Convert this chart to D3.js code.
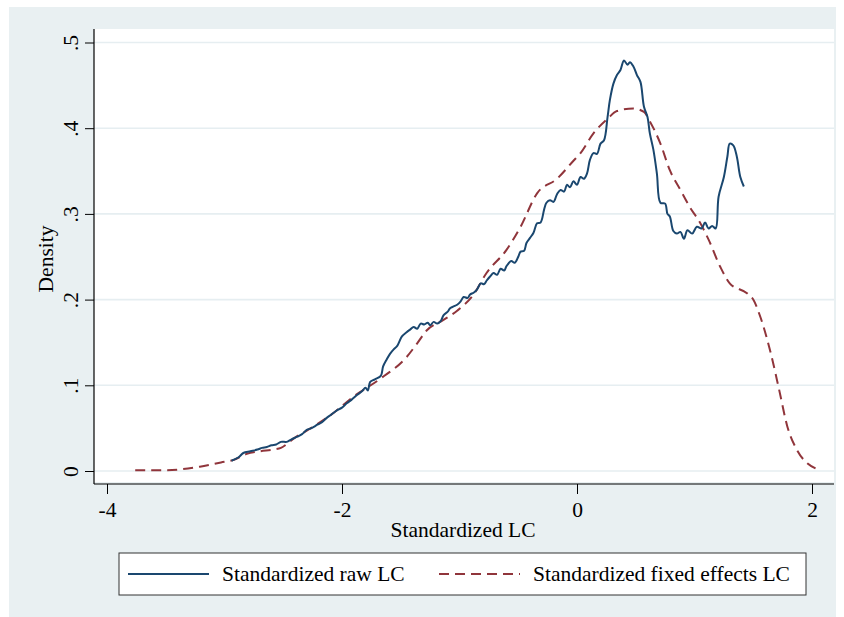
<!DOCTYPE html>
<html>
<head>
<meta charset="utf-8">
<script src="https://cdn.jsdelivr.net/npm/d3@7"></script>
<style>
  body { margin: 0; background: #ffffff; }
  svg text { font-family: "Liberation Serif", "Times New Roman", serif; fill: #000; }
</style>
</head>
<body>
<div class="chart"></div>
<script>
// density estimates: [x, density]
const rawLC = [
  [-2.94, 0.012], [-2.88, 0.016], [-2.84, 0.021], [-2.78, 0.023], [-2.72, 0.025],
  [-2.68, 0.027], [-2.64, 0.028], [-2.60, 0.030], [-2.56, 0.031], [-2.52, 0.034],
  [-2.47, 0.034], [-2.43, 0.037], [-2.38, 0.040], [-2.34, 0.043], [-2.30, 0.048],
  [-2.26, 0.050], [-2.21, 0.054], [-2.17, 0.057], [-2.13, 0.062], [-2.09, 0.066],
  [-2.04, 0.071], [-2.00, 0.074], [-1.96, 0.079], [-1.92, 0.083], [-1.87, 0.089],
  [-1.83, 0.093], [-1.80, 0.097], [-1.78, 0.094], [-1.76, 0.104], [-1.72, 0.107],
  [-1.67, 0.111], [-1.65, 0.122], [-1.62, 0.130], [-1.59, 0.137], [-1.56, 0.142],
  [-1.53, 0.146], [-1.49, 0.157], [-1.45, 0.162], [-1.42, 0.165], [-1.39, 0.168],
  [-1.36, 0.166], [-1.33, 0.172], [-1.30, 0.171], [-1.27, 0.173], [-1.25, 0.170],
  [-1.22, 0.174], [-1.19, 0.172], [-1.16, 0.175], [-1.135, 0.182], [-1.10, 0.186],
  [-1.08, 0.190], [-1.05, 0.192], [-1.02, 0.194], [-0.99, 0.198], [-0.965, 0.203],
  [-0.93, 0.202], [-0.91, 0.206], [-0.88, 0.208], [-0.85, 0.212], [-0.82, 0.219],
  [-0.79, 0.218], [-0.77, 0.222], [-0.74, 0.227], [-0.71, 0.231], [-0.68, 0.229],
  [-0.65, 0.236], [-0.62, 0.234], [-0.60, 0.239], [-0.56, 0.245], [-0.53, 0.243],
  [-0.50, 0.250], [-0.48, 0.256], [-0.45, 0.257], [-0.43, 0.266], [-0.40, 0.272],
  [-0.37, 0.278], [-0.34, 0.289], [-0.31, 0.290], [-0.28, 0.305], [-0.26, 0.313],
  [-0.23, 0.316], [-0.20, 0.314], [-0.17, 0.323], [-0.14, 0.328], [-0.11, 0.326],
  [-0.085, 0.334], [-0.06, 0.331], [-0.03, 0.338], [0.00, 0.334], [0.03, 0.343],
  [0.06, 0.341], [0.085, 0.347], [0.11, 0.363], [0.14, 0.371], [0.17, 0.370],
  [0.20, 0.382], [0.23, 0.386], [0.26, 0.413], [0.28, 0.433], [0.31, 0.452],
  [0.34, 0.462], [0.37, 0.468], [0.40, 0.479], [0.43, 0.474], [0.45, 0.477],
  [0.48, 0.472], [0.51, 0.462], [0.54, 0.454], [0.57, 0.425], [0.60, 0.413],
  [0.62, 0.394], [0.65, 0.375], [0.68, 0.347], [0.71, 0.313], [0.75, 0.312],
  [0.77, 0.300], [0.79, 0.297], [0.82, 0.280], [0.85, 0.277], [0.88, 0.279],
  [0.91, 0.271], [0.94, 0.281], [0.98, 0.277], [1.02, 0.285], [1.06, 0.283],
  [1.09, 0.290], [1.12, 0.283], [1.15, 0.286], [1.18, 0.283], [1.205, 0.320],
  [1.25, 0.343], [1.28, 0.367], [1.30, 0.382], [1.33, 0.380], [1.36, 0.367],
  [1.39, 0.343], [1.42, 0.332]
];

const fixedLC = [
  [-3.76, 0.001], [-3.50, 0.001], [-3.21, 0.005], [-3.03, 0.010], [-2.92, 0.013],
  [-2.81, 0.020], [-2.70, 0.023], [-2.58, 0.025], [-2.52, 0.027], [-2.41, 0.038],
  [-2.24, 0.052], [-2.07, 0.068], [-1.90, 0.087], [-1.67, 0.108], [-1.45, 0.133],
  [-1.36, 0.149], [-1.28, 0.164], [-1.14, 0.176], [-1.02, 0.187], [-0.88, 0.206],
  [-0.77, 0.231], [-0.60, 0.258], [-0.48, 0.285], [-0.34, 0.324], [-0.17, 0.341],
  [-0.03, 0.362], [0.03, 0.371], [0.14, 0.394], [0.26, 0.411], [0.34, 0.420],
  [0.48, 0.423], [0.57, 0.419], [0.62, 0.408], [0.71, 0.382], [0.79, 0.351],
  [0.88, 0.328], [0.96, 0.308], [1.05, 0.289], [1.12, 0.270], [1.22, 0.238],
  [1.30, 0.219], [1.45, 0.207], [1.50, 0.200], [1.56, 0.180], [1.65, 0.137],
  [1.72, 0.095], [1.79, 0.052], [1.87, 0.025], [1.96, 0.009], [2.03, 0.003]
];

const xTicks = [-4, -2, 0, 2];
const xTickLabels = ["-4", "-2", "0", "2"];
const yTicks = [0, 0.1, 0.2, 0.3, 0.4, 0.5];
const yTickLabels = ["0", ".1", ".2", ".3", ".4", ".5"];
const seriesNames = ["Standardized raw LC", "Standardized fixed effects LC"];

const svgWidth = 844;
const svgHeight = 617;
const plot = { left: 94, right: 834, top: 29, bottom: 484 };
const blue = "#1a476f";
const red = "#90353b";
const bg = "#e9f0f2";
const fontSize = "21.5px";

const svg = d3
  .select(".chart")
  .append("svg")
  .attr("width", svgWidth)
  .attr("height", svgHeight);

// outer graph region
svg.append("rect")
  .attr("x", 9).attr("y", 7)
  .attr("width", 827).attr("height", 610)
  .attr("fill", bg);

svg.append("rect")
  .attr("x", plot.left).attr("y", plot.top)
  .attr("width", plot.right - plot.left).attr("height", plot.bottom - 2 - plot.top)
  .attr("fill", "#fff");

const x = d3.scaleLinear().domain([-4, 2]).range([107, 812]);
const y = d3.scaleLinear().domain([0, 0.5]).range([471, 42.5]);

// gridlines
svg.append("g")
  .selectAll("line")
  .data(yTicks)
  .enter()
  .append("line")
  .attr("x1", plot.left).attr("x2", plot.right)
  .attr("y1", (d) => y(d)).attr("y2", (d) => y(d))
  .attr("stroke", "#e6eef1")
  .attr("stroke-width", 1.6);

// axes
const yAxis = svg.append("g")
  .attr("transform", `translate(${plot.left},0)`)
  .call(d3.axisLeft(y).tickValues(yTicks).tickSize(9).tickFormat((d, i) => yTickLabels[i]));
yAxis.select(".domain").remove();
yAxis.selectAll("line").attr("stroke", "#000");
yAxis.selectAll("text")
  .attr("x", 0).attr("y", 0).attr("dy", 0)
  .attr("text-anchor", "middle")
  .attr("transform", "translate(-16,0) rotate(-90)")
  .style("font-size", fontSize);

const xAxis = svg.append("g")
  .attr("transform", `translate(0,${plot.bottom})`)
  .call(d3.axisBottom(x).tickValues(xTicks).tickSize(10).tickPadding(8)
    .tickFormat((d, i) => xTickLabels[i]));
xAxis.select(".domain").remove();
xAxis.selectAll("line").attr("stroke", "#000");
xAxis.selectAll("text").style("font-size", fontSize);

svg.append("line")
  .attr("x1", plot.left).attr("x2", plot.left)
  .attr("y1", plot.top).attr("y2", plot.bottom)
  .attr("stroke", "#000").attr("stroke-width", 1.2);
svg.append("line")
  .attr("x1", plot.left).attr("x2", plot.right)
  .attr("y1", plot.bottom).attr("y2", plot.bottom)
  .attr("stroke", "#000").attr("stroke-width", 1.2);

// axis titles
svg.append("text")
  .attr("transform", "translate(53,259) rotate(-90)")
  .attr("text-anchor", "middle")
  .style("font-size", fontSize)
  .text("Density");
svg.append("text")
  .attr("x", 463).attr("y", 537)
  .attr("text-anchor", "middle")
  .style("font-size", fontSize)
  .text("Standardized LC");

// lines
const line = d3.line()
  .x((d) => x(d[0]))
  .y((d) => y(d[1]));

svg.append("path")
  .datum(fixedLC)
  .attr("d", line.curve(d3.curveMonotoneX))
  .attr("fill", "none")
  .attr("stroke", red)
  .attr("stroke-width", 2)
  .attr("stroke-dasharray", "10,6");

svg.append("path")
  .datum(rawLC)
  .attr("d", line.curve(d3.curveCatmullRom))
  .attr("fill", "none")
  .attr("stroke", blue)
  .attr("stroke-width", 2)
  .attr("stroke-linejoin", "round");

// legend
const legend = svg.append("g");
legend.append("rect")
  .attr("x", 119).attr("y", 553)
  .attr("width", 687).attr("height", 42)
  .attr("fill", "#fff")
  .attr("stroke", "#333")
  .attr("stroke-width", 1);

const legendItems = [
  { name: seriesNames[0], color: blue, dash: null, x0: 128 },
  { name: seriesNames[1], color: red, dash: "10,6", x0: 439 }
];
legendItems.forEach((d) => {
  legend.append("line")
    .attr("x1", d.x0).attr("x2", d.x0 + 81)
    .attr("y1", 574).attr("y2", 574)
    .attr("stroke", d.color)
    .attr("stroke-width", 2)
    .attr("stroke-dasharray", d.dash);
  legend.append("text")
    .attr("x", d.x0 + 94).attr("y", 581)
    .style("font-size", fontSize)
    .text(d.name);
});
</script>
</body>
</html>
